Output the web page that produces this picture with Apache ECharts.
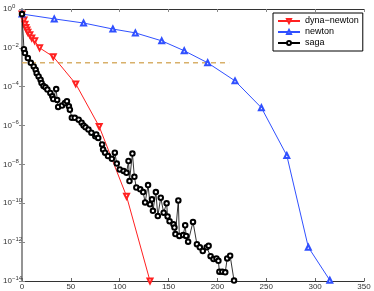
<!DOCTYPE html>
<html>
<head>
<meta charset="utf-8">
<script src="https://cdn.jsdelivr.net/npm/echarts@6/dist/echarts.min.js"></script>
<style>html,body{margin:0;padding:0;background:#fff}#c{width:374px;height:291px}</style>
</head>
<body>
<div id="c"></div>
<script>
var xTicks = [0, 50, 100, 150, 200, 250, 300, 350];
var yTickExps = [0, -2, -4, -6, -8, -10, -12, -14];

var dynaIter = [0, 2, 3, 4, 5, 6, 8, 10, 13, 18, 32, 55, 79, 107, 131];
var dynaVal = [0.55, 0.275, 0.166, 0.11, 0.083, 0.063, 0.047, 0.032, 0.023, 0.01, 3.5e-3, 1.4e-4, 8.9e-7, 2.3e-10, 1e-14];

var newtonIter = [0, 33, 63, 93, 116, 143, 166, 190, 218, 245, 271, 293, 315];
var newtonVal = [0.55, 0.31, 0.19, 0.093, 0.059, 0.023, 7.1e-3, 1.7e-3, 2.0e-4, 8.3e-6, 2.9e-8, 5.5e-13, 1.1e-14];

var sagaIter = [0, 2, 3, 6, 9, 12, 14, 15, 17, 19, 20, 22, 24, 26, 29, 31, 32, 35, 36, 37, 41, 44, 46, 48, 49, 51, 54, 58, 61, 63, 65, 68, 71, 75, 76, 78, 82, 83, 85, 88, 92, 95, 97, 100, 104, 107, 109, 110, 113, 115, 117, 121, 124, 126, 129, 131, 133, 134, 137, 139, 142, 145, 148, 149, 151, 155, 156, 157, 160, 161, 165, 167, 168, 170, 175, 179, 182, 185, 189, 191, 193, 196, 199, 201, 202, 205, 208, 210, 213, 217];
var sagaVal = [0.55, 8.5e-3, 5.4e-3, 3.0e-3, 1.7e-3, 1.1e-3, 7.4e-4, 5.0e-4, 3.4e-4, 2.3e-4, 1.55e-4, 1.1e-4, 9.5e-5, 7.1e-5, 4.8e-5, 3.2e-5, 2.3e-5, 7.6e-5, 2.1e-5, 9.1e-6, 1.07e-5, 1.45e-5, 1.8e-5, 9.8e-6, 6.6e-6, 2.5e-6, 2.5e-6, 2.0e-6, 1.4e-6, 1.0e-6, 8.1e-7, 6.2e-7, 4.3e-7, 2.8e-7, 3.5e-7, 2.3e-7, 1.07e-7, 5.9e-8, 4.0e-8, 2.7e-8, 1.95e-8, 4.0e-8, 1.1e-8, 5.5e-9, 4.6e-9, 3.7e-9, 1.5e-8, 1.4e-9, 3.6e-8, 2.3e-9, 6.5e-10, 5.2e-10, 3.8e-10, 1.1e-10, 8.7e-10, 8.9e-11, 1.6e-10, 4.1e-11, 3.8e-10, 2.2e-11, 1.95e-10, 3.3e-11, 1.0e-10, 2.1e-11, 1.2e-11, 8.3e-12, 5.6e-12, 2.6e-12, 1.4e-10, 2.1e-12, 2.3e-12, 7.4e-12, 2.1e-12, 1.05e-12, 1.1e-11, 7.9e-13, 5.4e-13, 3.5e-13, 5.4e-13, 6.5e-13, 1.9e-13, 1.35e-13, 1.45e-13, 1.1e-13, 3.0e-14, 3.0e-14, 2.8e-14, 1.45e-13, 2.0e-13, 1.05e-14];

var refIter = [0, 212];
var refVal = [1.7e-3, 1.7e-3];

function pairs(xs, ys) { return xs.map(function (x, i) { return [x, ys[i]]; }); }

var FONT = 'Liberation Sans';
var chart = echarts.init(document.getElementById('c'), null, { renderer: 'canvas' });
var yLabel = function (v) {
  var e = Math.round(Math.log10(v));
  return '{b|10}{s|' + (e < 0 ? '\u2212' + (-e) : e) + '}';
};
chart.setOption({
  animation: false,
  backgroundColor: '#fff',
  grid: { left: 20, right: 10, top: 9, bottom: 9, containLabel: false },
  legend: {
    orient: 'vertical', left: 273, top: 13,
    padding: [3, 4, 3, 4], itemGap: 1, itemWidth: 22, itemHeight: 5,
    backgroundColor: '#fff', borderColor: '#000', borderWidth: 1,
    textStyle: { fontFamily: FONT, fontSize: 9, color: '#000', lineHeight: 10 },
    data: ['dyna\u2212newton', 'newton', 'saga']
  },
  xAxis: [{
    type: 'value', min: 0, max: 350, interval: 50, position: 'bottom',
    axisLine: { lineStyle: { color: '#333', width: 1 } },
    axisTick: { inside: true, length: 3, lineStyle: { color: '#666' } },
    axisLabel: { fontFamily: FONT, fontSize: 8, color: '#333', margin: 2,
      formatter: function (v) { return xTicks.indexOf(v) >= 0 ? String(v) : ''; } },
    splitLine: { show: false }
  }, {
    type: 'value', min: 0, max: 350, interval: 50, position: 'top',
    axisLine: { show: true, lineStyle: { color: '#333', width: 1 } },
    axisTick: { inside: true, length: 3, lineStyle: { color: '#888' } },
    axisLabel: { show: false }, splitLine: { show: false }
  }],
  yAxis: [{
    type: 'log', min: 1e-14, max: 1, interval: 2, position: 'left',
    axisLine: { show: true, lineStyle: { color: '#888', width: 2 } },
    axisTick: { inside: true, length: 3, lineStyle: { color: '#888' } },
    minorTick: { show: false },
    axisLabel: { align: 'left', margin: 19, formatter: yLabel,
      rich: {
        b: { fontFamily: FONT, fontSize: 8, color: '#333' },
        s: { fontFamily: FONT, fontSize: 6, color: '#333', padding: [0, 0, 6, 0] }
      } },
    splitLine: { show: false }
  }, {
    type: 'log', min: 1e-14, max: 1, interval: 2, position: 'right',
    axisLine: { show: true, lineStyle: { color: '#999', width: 1.5 } },
    axisTick: { inside: true, length: 3, lineStyle: { color: '#888' } },
    axisLabel: { show: false }, splitLine: { show: false }
  }],
  series: [{
    name: 'ref', type: 'line', data: pairs(refIter, refVal), symbol: 'none',
    lineStyle: { color: '#d8b06a', width: 1.5, type: [5, 4] }, silent: true, z: 1
  }, {
    name: 'dyna\u2212newton', type: 'line', data: pairs(dynaIter, dynaVal),
    symbol: 'emptyTriangle', symbolSize: 5, symbolRotate: 180,
    itemStyle: { color: '#ff2020', borderColor: '#ff2020', borderWidth: 1 },
    lineStyle: { color: '#ff2020', width: 1 }, z: 3
  }, {
    name: 'newton', type: 'line', data: pairs(newtonIter, newtonVal),
    symbol: 'emptyTriangle', symbolSize: 5,
    itemStyle: { color: '#3050ff', borderColor: '#3050ff', borderWidth: 1 },
    lineStyle: { color: '#3050ff', width: 1 }, z: 3
  }, {
    name: 'saga', type: 'line', data: pairs(sagaIter, sagaVal),
    symbol: 'emptyCircle', symbolSize: 4.5,
    itemStyle: { color: '#000', borderColor: '#000', borderWidth: 0.7 },
    lineStyle: { color: '#000', width: 0.8 }, z: 4
  }]
});
</script>
</body>
</html>
